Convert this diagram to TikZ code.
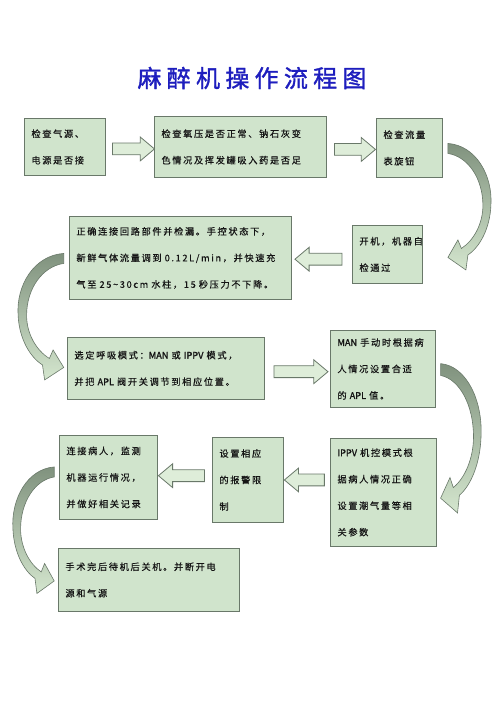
\documentclass[tikz,border=0pt]{standalone}
\usepackage{fontspec}
\usetikzlibrary{shapes.arrows,calc}
\newfontfamily\cjk[LetterSpace=18,FakeBold=0.4]{Noto Sans CJK SC}
\newfontfamily\cjkbold[FakeBold=1.4]{Noto Sans CJK SC}
\newfontfamily\titlefont[FakeBold=1.5,LetterSpace=22]{Noto Sans CJK SC}
\newcommand\en[1]{{\cjkbold #1}}
\definecolor{boxfill}{RGB}{208,228,204}
\definecolor{boxline}{RGB}{105,120,105}
\definecolor{arrowfill}{RGB}{222,237,217}
\definecolor{curvedark}{RGB}{128,146,126}
\definecolor{curvelight}{RGB}{212,230,206}
\definecolor{titleblue}{RGB}{30,30,190}
\definecolor{textcol}{RGB}{20,20,20}

\begin{document}
\begin{tikzpicture}[x=1pt,y=-1pt,
    box/.style={draw=boxline, fill=boxfill, line width=0.9pt, anchor=north west,
      inner xsep=7pt, inner ysep=0pt, align=left, text=textcol,
      font=\cjk\fontsize{9.2}{26.5}\selectfont},
    fatarrow/.style={single arrow, draw=boxline, fill=arrowfill, line width=0.8pt,
      minimum width=23pt, single arrow head extend=6pt, single arrow tip angle=80,
      inner xsep=0pt, inner ysep=5.5pt},
    curlarrow/.style={draw=boxline, line width=0.6pt, top color=curvedark, bottom color=curvelight},
    curl/.pic={
      \path[curlarrow] (5,-4.5) .. controls (33,-2.5) and (50,27.5) .. (48,57.5)
        .. controls (47,80.5) and (37,99) .. (25,107)
        -- (23,122) -- (5,109.5) -- (15,92) -- (18.5,100.5)
        .. controls (31,92.5) and (40,75.5) .. (40,57.5)
        .. controls (40,30.5) and (25,8.5) .. (5,5.5) -- cycle;
    }]
    % page
    \fill[white] (0,0) rectangle (500,708);

    % title
    \node[font=\titlefont\fontsize{24}{24}\selectfont, text=titleblue] (title) at (252,78) {麻醉机操作流程图};

    % first row
    \node[box, text width=67pt, minimum height=57pt] (chksrc) at (24,118) {检查气源、\\电源是否接};
    \node[box, text width=158pt, minimum height=61pt] (chkoxy) at (154,116) {检查氧压是否正常、钠石灰变\\色情况及挥发罐吸入药是否足};
    \node[box, text width=52pt, minimum height=59pt] (chkflow) at (376,118) {检查流量\\表旋钮};

    \node[fatarrow, minimum height=42pt, yshift=-2pt] (a1) at ($(chksrc.east)!.5!(chkoxy.west)$) {};
    \node[fatarrow, minimum height=41pt, yshift=-2pt] (a2) at ($(chkoxy.east)!.5!(chkflow.west)$) {};

    % second row
    \node[box, text width=56pt, minimum height=58pt] (poweron) at (352,225) {开机，机器自\\检通过};
    \node[box, text width=208pt, minimum height=83pt] (leaktest) at (69,216) {正确连接回路部件并检漏。手控状态下，\\新鲜气体流量调到~0.12L/min，并快速充\\气至~25\textasciitilde30cm~水柱，15~秒压力不下降。};

    \node[fatarrow, shape border rotate=180, minimum height=47pt, yshift=-3pt] (a3) at ($(poweron.west)!.5!(leaktest.east)$) {};
    \pic at (chkflow.east) {curl};

    % third row
    \node[box, text width=183pt, minimum height=62pt] (mode) at (67,337) {选定呼吸模式：\en{MAN}~或~\en{IPPV}~模式，\\并把~\en{APL}~阀开关调节到相应位置。};
    \node[box, text width=91pt, minimum height=77pt] (manset) at (330,330) {\en{MAN}~手动时根据病\\人情况设置合适\\的~\en{APL}~值。};

    \node[fatarrow, minimum height=54pt, yshift=-3pt] (a4) at ($(mode.east)!.5!(manset.west)$) {};
    \pic[xscale=-1.06] at (leaktest.west) {curl};

    % fourth row
    \node[box, text width=92pt, minimum height=108pt] (ippvset) at (330,438) {\en{IPPV}~机控模式根\\据病人情况正确\\设置潮气量等相\\关参数};
    \node[box, text width=57pt, minimum height=85pt] (alarm) at (212,437) {设置相应\\的报警限\\制};
    \node[box, text width=84pt, minimum height=84pt] (monitor) at (59,435) {连接病人，监测\\机器运行情况，\\并做好相关记录};

    \node[fatarrow, shape border rotate=180, minimum height=40pt] (a5) at ($(alarm.east)+(24,0)$) {};
    \node[fatarrow, shape border rotate=180, minimum height=46pt, yshift=3pt] (a6) at ($(monitor.east)!.5!(alarm.west)$) {};
    \pic[xscale=0.94, yscale=1.18] at (manset.east) {curl};

    % last row
    \node[box, text width=167pt, minimum height=63pt] (shutdown) at (58,548) {手术完后待机后关机。并断开电\\源和气源};
    \pic[xscale=-0.96] at ($(monitor.west)+(0,-6)$) {curl};
\end{tikzpicture}
\end{document}
